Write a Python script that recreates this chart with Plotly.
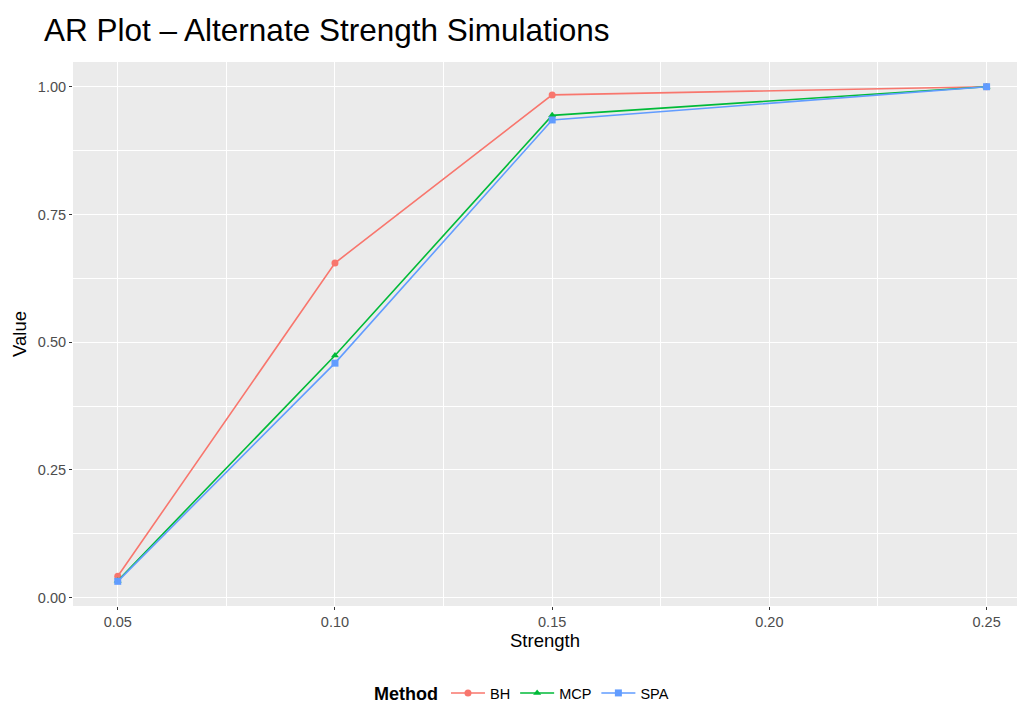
import plotly.graph_objects as go

strength = [0.05, 0.10, 0.15, 0.25]
bh = [0.042, 0.655, 0.984, 1.0]
mcp = [0.033, 0.474, 0.944, 1.0]
spa = [0.032, 0.459, 0.935, 1.0]

methods = ["BH", "MCP", "SPA"]
values = [bh, mcp, spa]
colors = ["#F8766D", "#00BA38", "#619CFF"]
symbols = ["circle", "triangle-up", "square"]

FONT = "Liberation Sans, Arial, Helvetica, sans-serif"

fig = go.Figure()
for name, vals, col, sym in zip(methods, values, colors, symbols):
    fig.add_trace(go.Scatter(
        x=strength, y=vals, name=name, mode="lines+markers",
        line=dict(color=col, width=1.6),
        marker=dict(color=col, symbol=sym, size=7),
    ))

fig.update_layout(
    width=1017, height=706,
    margin=dict(l=73, r=0, t=62, b=100),
    paper_bgcolor="white",
    plot_bgcolor="#EBEBEB",
    font=dict(family=FONT, color="#000000"),
    title=dict(text="AR Plot \u2013 Alternate Strength Simulations",
               x=44/1017, xanchor="left", y=1-30/706, yanchor="middle",
               font=dict(size=31.5, color="#000000", family=FONT)),
    showlegend=True,
    legend=dict(orientation="h", xref="container", yref="container",
                x=523/1017, xanchor="center", y=1-694/706, yanchor="middle",
                title=dict(text="<b>Method</b>", font=dict(size=18, color="#000000")),
                font=dict(size=14.5, color="#000000"),
                itemwidth=34, bgcolor="rgba(0,0,0,0)"),
)

fig.update_xaxes(
    range=[0.0397, 0.2570],
    tickvals=[0.05, 0.10, 0.15, 0.20, 0.25],
    ticktext=["0.05", "0.10", "0.15", "0.20", "0.25"],
    ticks="outside", ticklen=3, tickcolor="#333333", tickwidth=1,
    tickfont=dict(size=14.5, color="#4D4D4D"),
    showgrid=True, gridcolor="white", gridwidth=1.2,
    minor=dict(tickvals=[0.075, 0.125, 0.175, 0.225], showgrid=True,
               gridcolor="white", gridwidth=0.5),
    zeroline=False, showline=False,
    title=dict(text="Strength", font=dict(size=18.5, color="#000000"), standoff=4),
)
fig.update_yaxes(
    range=[-0.0163, 1.0484],
    tickvals=[0.0, 0.25, 0.5, 0.75, 1.0],
    ticktext=["0.00", "0.25", "0.50", "0.75", "1.00"],
    ticks="outside", ticklen=3, tickcolor="#333333", tickwidth=1,
    tickfont=dict(size=14.5, color="#4D4D4D"),
    showgrid=True, gridcolor="white", gridwidth=1.2,
    minor=dict(tickvals=[0.125, 0.375, 0.625, 0.875], showgrid=True,
               gridcolor="white", gridwidth=0.5),
    zeroline=False, showline=False,
    title=dict(text="Value", font=dict(size=18.5, color="#000000"), standoff=6),
)

fig.write_html("out.html")
